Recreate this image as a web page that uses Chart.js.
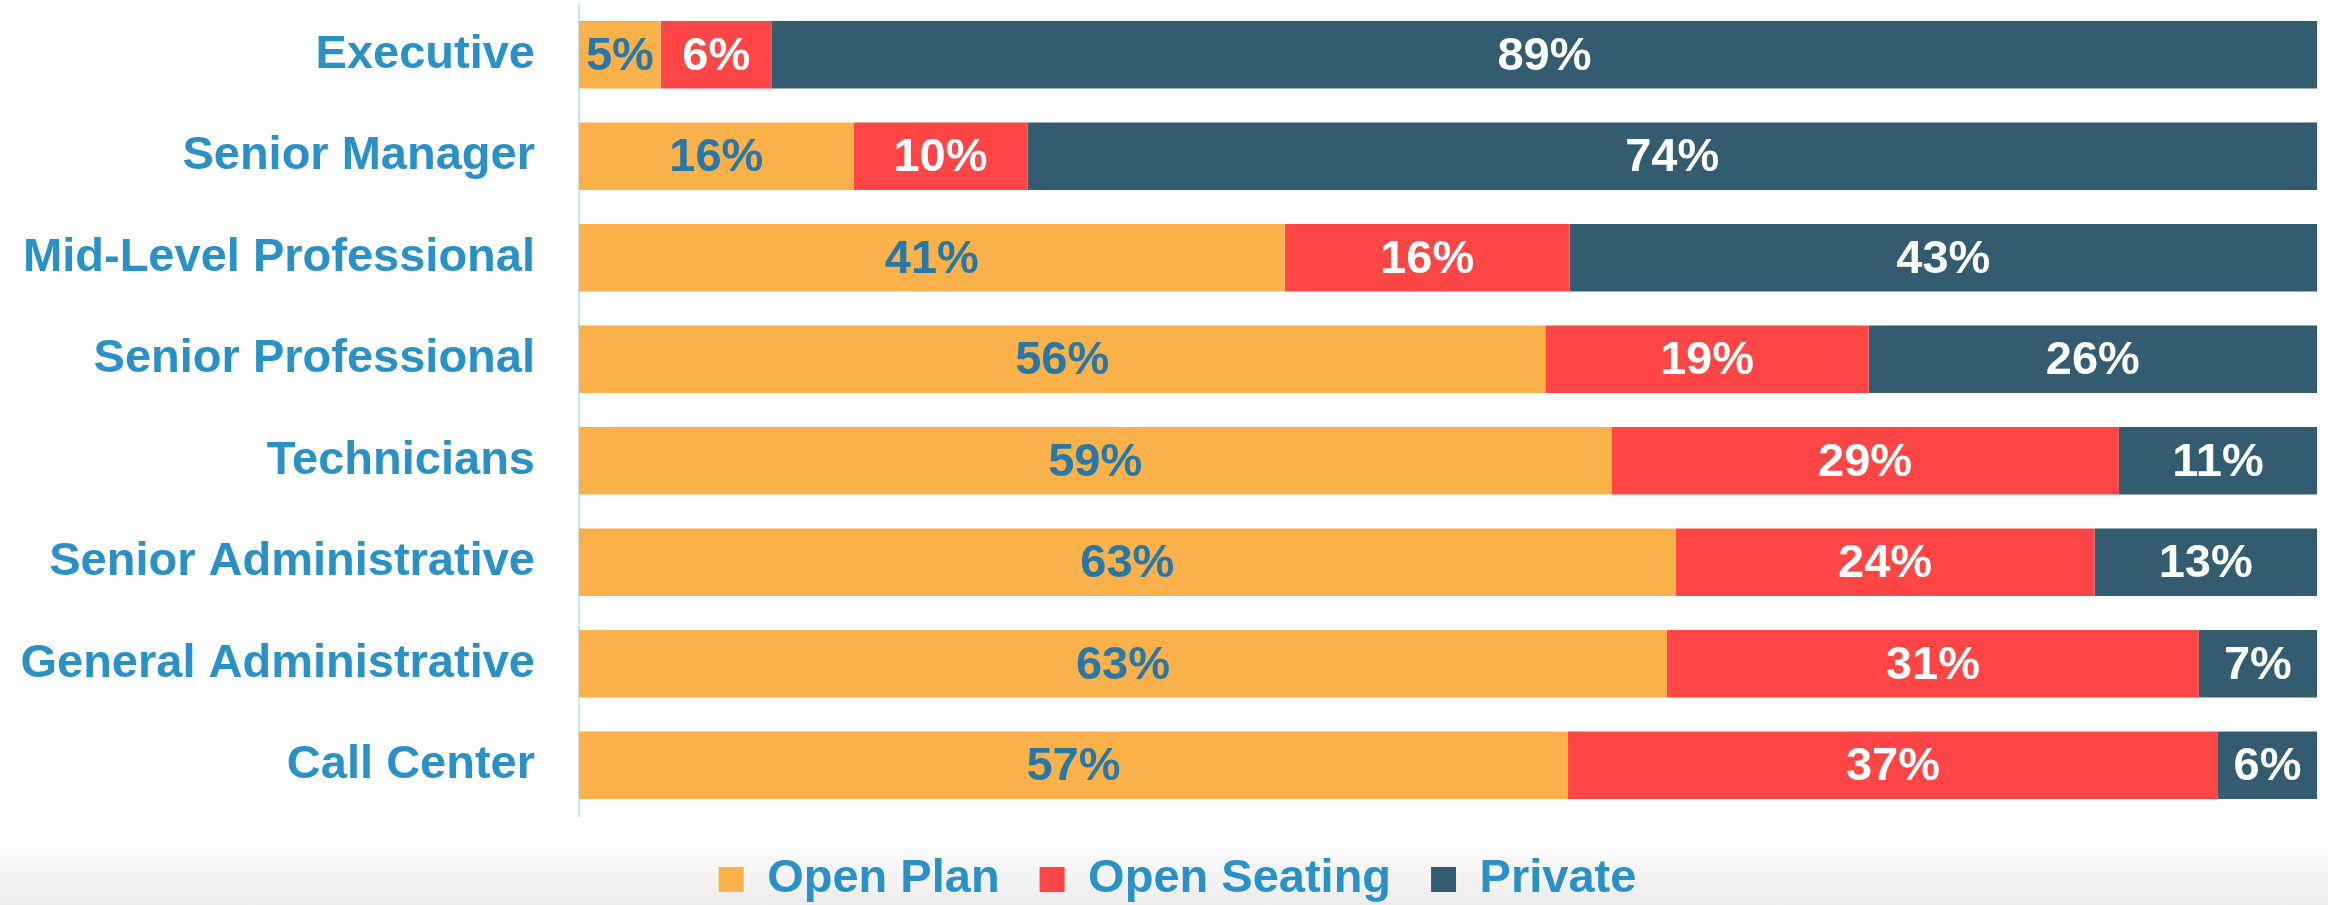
<!DOCTYPE html>
<html>
<head>
<meta charset="utf-8">
<script src="https://cdn.jsdelivr.net/npm/chart.js@4.4.1/dist/chart.umd.min.js"></script>
<style>
  html, body { margin: 0; padding: 0; }
  body {
    width: 2328px;
    height: 905px;
    overflow: hidden;
    background: linear-gradient(to bottom, #ffffff 0%, #ffffff 92%, #ececec 100%);
  }
</style>
</head>
<body>
<canvas id="workspaceChart" width="2328" height="905"></canvas>
<script>
// job levels, top to bottom
const categories = [
  'Executive',
  'Senior Manager',
  'Mid-Level Professional',
  'Senior Professional',
  'Technicians',
  'Senior Administrative',
  'General Administrative',
  'Call Center'
];

// share of each workspace type (%)
const openPlan      = [4.7, 15.8, 40.6, 55.6, 59.4, 63.1, 62.6, 56.9];
const openSeating   = [6.4, 10.0, 16.4, 18.6, 29.2, 24.1, 30.6, 37.4];
const privateOffice = [88.9, 74.2, 43.0, 25.8, 11.4, 12.8, 6.8, 5.7];

const seriesNames = ['Open Plan', 'Open Seating', 'Private'];

const blueText = '#2a91c6';
const font = 'Liberation Sans, Arial, Helvetica, sans-serif';

// draws the % value in the middle of every bar piece
const barLabels = {
  id: 'barLabels',
  afterDatasetsDraw(chart) {
    const ctx = chart.ctx;
    ctx.save();
    ctx.font = 'bold 47px ' + font;
    ctx.textAlign = 'center';
    ctx.textBaseline = 'middle';
    chart.data.datasets.forEach((ds, i) => {
      const meta = chart.getDatasetMeta(i);
      ctx.fillStyle = i === 0 ? '#2778a7' : '#ffffff';
      meta.data.forEach((bar, j) => {
        const p = bar.getProps(['x', 'y', 'base'], true);
        ctx.fillText(Math.round(ds.data[j]) + '%', (p.x + p.base) / 2, p.y + 2);
      });
    });
    ctx.restore();
  }
};

// keep the legend band the same height as in the original,
// and nudge the centred row a little to the right
const legendHeight = {
  id: 'legendHeight',
  beforeUpdate(chart) {
    const legend = chart.legend;
    if (legend && !legend._fixed) {
      const fit = legend.fit;
      legend.fit = function () {
        fit.call(this);
        this.height = 89;
        if (this.lineWidths && this.lineWidths.length) this.lineWidths[0] -= 38;
      };
      legend._fixed = true;
    }
  }
};

new Chart(document.getElementById('workspaceChart'), {
  type: 'bar',
  data: {
    labels: categories,
    datasets: [
      { label: seriesNames[0], data: openPlan, backgroundColor: '#fbb14a' },
      { label: seriesNames[1], data: openSeating, backgroundColor: '#ff4646' },
      { label: seriesNames[2], data: privateOffice, backgroundColor: '#345c70' }
    ]
  },
  options: {
    indexAxis: 'y',
    responsive: false,
    animation: false,
    barPercentage: 0.666,
    categoryPercentage: 1,
    layout: { padding: { top: 4, right: 11, left: 0, bottom: 0 } },
    scales: {
      x: { stacked: true, min: 0, max: 100, display: false },
      y: {
        stacked: true,
        grid: { drawOnChartArea: false, drawTicks: false },
        border: { display: true, color: '#c8e3f3', width: 2 },
        ticks: {
          color: blueText,
          padding: 44,
          font: { family: font, size: 47, weight: 'bold' }
        },
        afterFit(scale) {
          scale.width = 579;
          // labels sit inside their bands, no extra room needed above/below
          scale.paddingTop = 0;
          scale.paddingBottom = 0;
        }
      }
    },
    plugins: {
      tooltip: { enabled: false },
      legend: {
        position: 'bottom',
        labels: {
          boxWidth: 25,
          boxHeight: 25,
          padding: 40,
          color: blueText,
          font: { family: font, size: 47, weight: 'bold' }
        }
      }
    }
  },
  plugins: [barLabels, legendHeight]
});
</script>
</body>
</html>
